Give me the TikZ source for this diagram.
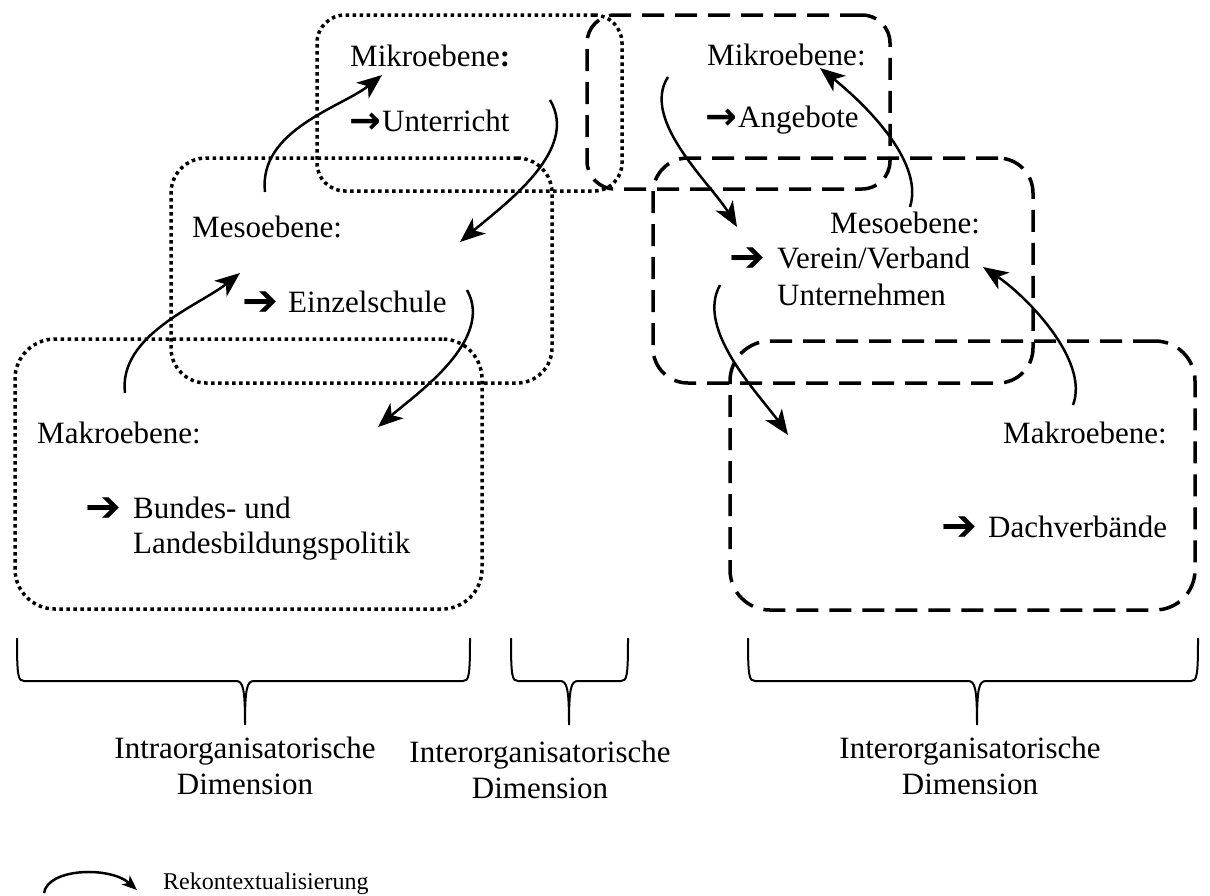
\documentclass[tikz,border=0pt]{standalone}
\usepackage{fontspec}
\setmainfont{Liberation Serif}
\newfontfamily\djv{DejaVu Sans}
\usetikzlibrary{arrows.meta}
\newcommand\mybrace[3]{%
  \draw[bracestyle] (#1,638) .. controls (#1,676) and (#1+1,681) .. (#1+7,681)
    -- (#3-9,681) .. controls (#3-2,681) and (#3,688) .. (#3,725)
    .. controls (#3,688) and (#3+2,681) .. (#3+9,681)
    -- (#2-7,681) .. controls (#2-1,681) and (#2,676) .. (#2,638);}
\begin{document}
\begin{tikzpicture}[x=1pt,y=-1pt,
  dotbox/.style={draw, line width=3.5pt, dash pattern=on 3.5pt off 3.5pt, rounded corners=#1, inner sep=0pt},
  dashbox/.style={draw, line width=3.5pt, dash pattern=on 22pt off 11pt, rounded corners=#1, inner sep=0pt},
  txt/.style={font=\fontsize{31}{36}\selectfont, inner sep=0pt, anchor=base west},
  ctxt/.style={font=\fontsize{31}{36}\selectfont, inner sep=0pt, anchor=base},
  thinarr/.style={font=\djv\bfseries\fontsize{38}{40}\selectfont, inner sep=0pt, anchor=base east},
  bigarr/.style={font=\djv\fontsize{43}{46}\selectfont, inner sep=0pt, anchor=base west},
  recon/.style={line width=2.5pt, -{Stealth[length=25pt,width=20pt,inset=7pt]}},
  legarr/.style={line width=2.5pt, -{Stealth[length=15pt,width=12pt,inset=4pt]}},
  bracestyle/.style={line width=2pt}
]
\useasboundingbox (0,0) rectangle (1210,895);

% boxes
\node[dotbox=28, minimum width=305pt, minimum height=176pt] (mikroL) at (469.5,103) {};
\node[dotbox=35, minimum width=381pt, minimum height=225pt] (mesoL) at (361.5,270.5) {};
\node[dotbox=40, minimum width=467pt, minimum height=270pt] (makroL) at (248.5,474) {};
\node[dashbox=28, minimum width=303pt, minimum height=174pt] (mikroR) at (738.5,102) {};
\node[dashbox=35, minimum width=380pt, minimum height=225pt] (mesoR) at (843,270.5) {};
\node[dashbox=40, minimum width=465pt, minimum height=269pt] (makroR) at (962.5,475.5) {};

% texts left
\node[txt] (tMikL) at (350,66) {Mikroebene\textbf{:}};
\node[thinarr] (aUnt) at (382,133) {→};
\node[txt] (tUnt) at (382,131) {Unterricht};
\node[txt] (tMesL) at (192,237) {Mesoebene:};
\node[bigarr] (aEin) at (242,315) {➔};
\node[txt] (tEin) at (288,312) {Einzelschule};
\node[txt] (tMakL) at (37,443) {Makroebene:};
\node[bigarr] (aBun) at (85,521) {➔};
\node[txt] (tBun1) at (133,518) {Bundes- und};
\node[txt] (tBun2) at (133,553) {Landesbildungspolitik};

% texts right
\node[txt] (tMikR) at (707,65) {Mikroebene:};
\node[thinarr] (aAng) at (738,129) {→};
\node[txt] (tAng) at (738,127) {Angebote};
\node[txt] (tMesR) at (830,233) {Mesoebene:};
\node[bigarr] (aVer) at (729,271) {➔};
\node[txt] (tVer1) at (777,268) {Verein/Verband};
\node[txt] (tVer2) at (777,305) {Unternehmen};
\node[txt] (tMakR) at (1003,443) {Makroebene:};
\node[bigarr] (aDach) at (941,540) {➔};
\node[txt] (tDach) at (988,537) {Dachverbände};

% recontextualisation arrows
\coordinate (c1s) at (265,192); \coordinate (c1e) at (382,75);
\coordinate (c2s) at (550,100); \coordinate (c2e) at (460,242);
\coordinate (c3s) at (125,393); \coordinate (c3e) at (240,273);
\coordinate (c4s) at (467,290); \coordinate (c4e) at (378,427);
\coordinate (c5s) at (668,77);  \coordinate (c5e) at (737,227);
\coordinate (c6s) at (910,207); \coordinate (c6e) at (820,68);
\coordinate (c7s) at (720,285); \coordinate (c7e) at (788,435);
\coordinate (c8s) at (1073,405); \coordinate (c8e) at (983,267);
\draw[recon] (c1s) .. controls (258,130) and (342,107) .. (c1e);
\draw[recon] (c2s) .. controls (580,150) and (505,204) .. (c2e);
\draw[recon] (c3s) .. controls (118,335) and (200,305) .. (c3e);
\draw[recon] (c4s) .. controls (495,340) and (415,395) .. (c4e);
\draw[recon] (c5s) .. controls (640,120) and (712,185) .. (c5e);
\draw[recon] (c6s) .. controls (925,160) and (860,100) .. (c6e);
\draw[recon] (c7s) .. controls (695,330) and (760,395) .. (c7e);
\draw[recon] (c8s) .. controls (1090,360) and (1025,295) .. (c8e);

% braces
\mybrace{17}{470}{245}
\mybrace{511}{628}{569}
\mybrace{748}{1198}{977}

% bottom labels
\node[ctxt] (lab1a) at (245,758) {Intraorganisatorische};
\node[ctxt] (lab1b) at (245,794) {Dimension};
\node[ctxt] (lab2a) at (540,762) {Interorganisatorische};
\node[ctxt] (lab2b) at (540,798) {Dimension};
\node[ctxt] (lab3a) at (970,758) {Interorganisatorische};
\node[ctxt] (lab3b) at (970,794) {Dimension};

% legend
\coordinate (ls) at (44,893); \coordinate (le) at (137,890);
\draw[legarr] (ls) .. controls (48,868) and (110,866) .. (le);
\node[font=\fontsize{24}{28}\selectfont, inner sep=0pt, anchor=base west] (leg) at (163,889) {Rekontextualisierung};
\end{tikzpicture}
\end{document}
